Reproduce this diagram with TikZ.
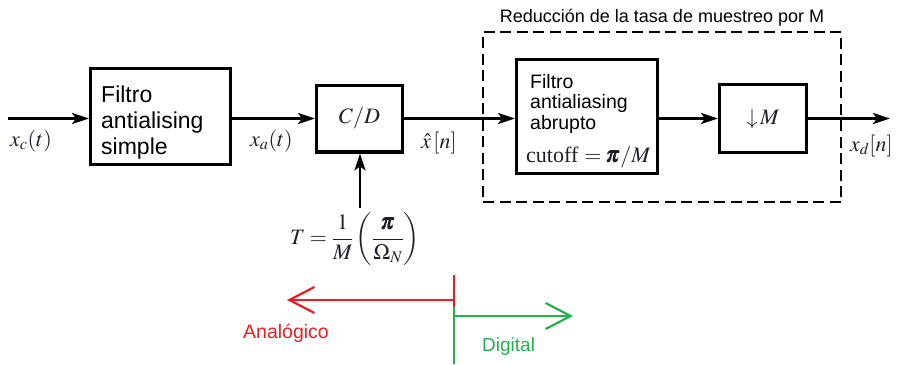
\documentclass[tikz,border=0pt]{standalone}
\usepackage{amsmath}
\usepackage{mathptmx}
\usepackage{fontspec}
\setmainfont{Liberation Sans}
\newfontfamily\serifface{Liberation Serif}
\usetikzlibrary{arrows.meta}
\definecolor{anared}{RGB}{237,28,36}
\definecolor{diggreen}{RGB}{34,177,76}
\definecolor{ink}{RGB}{30,30,40}

\begin{document}
\begin{tikzpicture}[x=1pt,y=-1pt,
  block/.style={draw, line width=3.2pt, inner sep=0pt},
  flow/.style={line width=2.6pt, -{Stealth[length=17pt,width=11pt,inset=4pt]}},
  bigtext/.style={anchor=base west, inner sep=0pt, font=\fontsize{23}{26}\selectfont},
  smalltext/.style={anchor=base west, inner sep=0pt, font=\fontsize{19.5}{22}\selectfont},
  sig/.style={inner sep=0pt, text=ink, font=\fontsize{22}{26}\selectfont},
  side/.style={line width=2.2pt, -{Straight Barb[length=25pt,width=26pt]}},
]
\useasboundingbox (0,0) rectangle (901,364);

% decimation stage frame and its title
\node[draw, dashed, dash pattern=on 11pt off 5.5pt, line width=1.7pt,
      minimum width=358pt, minimum height=170pt, inner sep=0pt] (decim) at (662,117) {};
\node[anchor=base, inner sep=0pt, font=\fontsize{18}{22}\selectfont] (title) at (662,22)
  {Reducción de la tasa de muestreo por M};

% blocks
\node[block, minimum width=139.8pt, minimum height=95.8pt] (lpf) at (160.5,116.5) {};
\node[bigtext] (lpfa) at (101,102) {Filtro};
\node[bigtext] (lpfb) at (101,128) {antialising};
\node[bigtext] (lpfc) at (101,154) {simple};

\node[block, minimum width=85.8pt, minimum height=66.8pt, text=ink,
      font=\fontsize{22}{26}\selectfont] (cd) at (359.5,118.5) {$C/D$};

\node[block, minimum width=140.8pt, minimum height=113.8pt] (sharp) at (587,116.5) {};
\node[smalltext] (sharpa) at (530,88) {Filtro};
\node[smalltext] (sharpb) at (530,108.5) {antialiasing};
\node[smalltext] (sharpc) at (530,129) {abrupto};
\node[anchor=base west, inner sep=0pt, text=ink, font=\fontsize{22}{26}\selectfont]
  (cutoff) at (526,162) {{\serifface cutoff} $=\pmb{\pi}/M$};

\node[block, minimum width=86.8pt, minimum height=67.8pt, text=ink,
      font=\fontsize{22}{26}\selectfont] (down) at (763,118.5) {$\downarrow\!M$};

% signal path
\coordinate (in) at (8,118.5);
\coordinate (out) at (890,118.5);
\draw[flow] (in) -- (in -| lpf.west);
\draw[flow] (lpf.east |- cd.west) -- (cd.west);
\draw[flow] (cd.east) -- (cd.east -| sharp.west);
\draw[flow] (sharp.east |- down.west) -- (down.west);
\draw[flow] (down.east) -- (down.east -| out);

% sampling period input
\node[sig] (period) at (355,239)
  {$T=\dfrac{1}{M}\left(\dfrac{\pmb{\pi}}{\Omega_N}\right)$};
\coordinate (clk) at (360,208);
\draw[flow] (clk) -- (clk |- cd.south);

% signal labels
\node[sig, anchor=base west] (xc) at (10,146) {$x_c(t)$};
\node[sig, anchor=base west] (xa) at (250,146) {$x_a(t)$};
\node[sig, anchor=base west] (xh) at (421,148) {$\hat{x}\,[n]$};
\node[sig, anchor=base west] (xd) at (850,151) {$x_d[n]$};

% analog / digital domain marks
\coordinate (redtop) at (454,275);
\coordinate (redarm) at (454,300);
\coordinate (joint) at (454,307);
\coordinate (greenarm) at (454,316);
\coordinate (greenend) at (454,364);
\coordinate (redtip) at (287,300);
\coordinate (greentip) at (573,316);
\draw[anared, line width=2.2pt] (redtop) -- (joint);
\draw[anared, side] (redarm) -- (redtip);
\draw[diggreen, line width=2.2pt] (joint) -- (greenend);
\draw[diggreen, side] (greenarm) -- (greentip);
\node[anchor=base west, inner sep=0pt, text=anared, font=\fontsize{19.5}{22}\selectfont]
  (analog) at (243,338) {Analógico};
\node[anchor=base west, inner sep=0pt, text=diggreen, font=\fontsize{19}{22}\selectfont]
  (digital) at (482,351) {Digital};
\end{tikzpicture}
\end{document}
